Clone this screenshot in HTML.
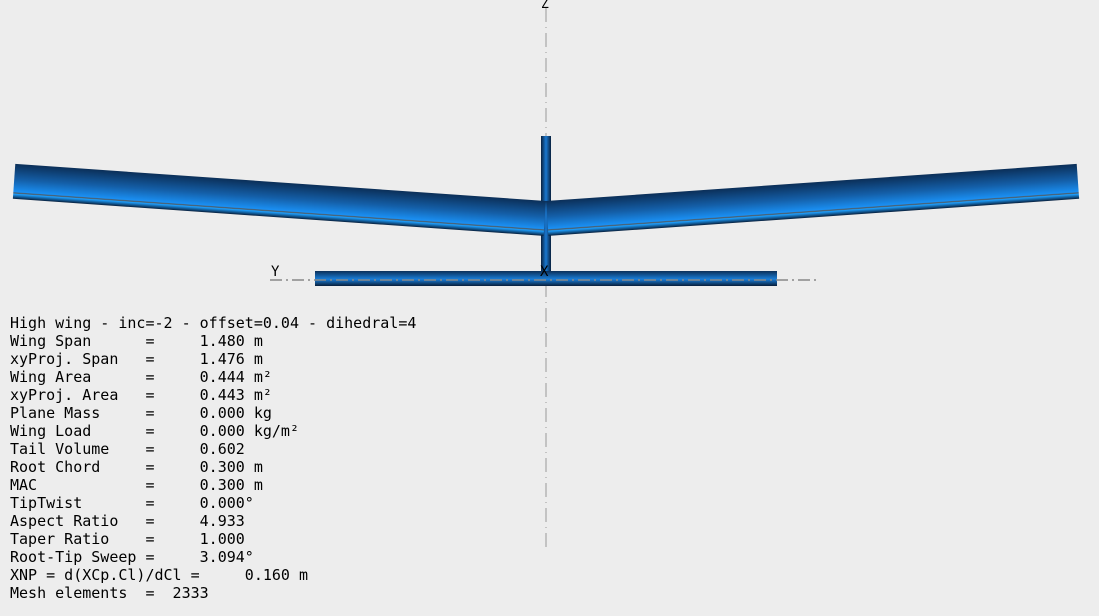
<!DOCTYPE html>
<html><head><meta charset="utf-8"><style>
html,body{margin:0;padding:0;background:#ededed;}
svg{display:block;}
text{font-family:"DejaVu Sans Mono","Liberation Mono",monospace;font-size:15px;fill:#000;}
</style></head><body>
<svg width="1099" height="616" viewBox="0 0 1099 616">
<defs>
<linearGradient id="wg" x1="0" y1="0" x2="0" y2="1">
<stop offset="0" stop-color="#0b2f58"/>
<stop offset="0.45" stop-color="#145fa8"/>
<stop offset="0.8" stop-color="#1a90f4"/>
<stop offset="0.83" stop-color="#555"/>
<stop offset="0.86" stop-color="#1ea0ff"/>
<stop offset="1" stop-color="#081e3a"/>
</linearGradient>
<linearGradient id="fg" x1="0" y1="0" x2="1" y2="0">
<stop offset="0" stop-color="#08203d"/>
<stop offset="0.5" stop-color="#1a78d0"/>
<stop offset="1" stop-color="#08203d"/>
</linearGradient>
<linearGradient id="eg" x1="0" y1="0" x2="0" y2="1">
<stop offset="0" stop-color="#0b2f58"/>
<stop offset="0.55" stop-color="#1a7ed8"/>
<stop offset="1" stop-color="#081e3a"/>
</linearGradient>
</defs>
<line x1="546" y1="8" x2="546" y2="552" stroke="#999" stroke-width="1" stroke-dasharray="14,5,1,5"/>
<text x="541" y="8" style="font-size:13px">Z</text>
<rect x="541" y="136" width="10" height="136" fill="url(#fg)"/>
<g transform="translate(546,201) rotate(4)">
<rect x="-532" y="0" width="532" height="35" fill="url(#wg)"/>
</g>
<g transform="translate(546,201) rotate(-4)">
<rect x="0" y="0" width="532" height="35" fill="url(#wg)"/>
</g>
<rect x="315" y="271" width="462" height="15" fill="url(#eg)"/>
<line x1="270" y1="280" x2="818" y2="280" stroke="#888" stroke-width="1.5" stroke-dasharray="12,4,2,4"/>
<text x="271" y="276" style="font-size:14px">Y</text>
<text x="540" y="276" style="font-size:14px">X</text>
<g xml:space="preserve">
<text x="10" y="328" xml:space="preserve">High wing - inc=-2 - offset=0.04 - dihedral=4</text>
<text x="10" y="346" xml:space="preserve">Wing Span      =     1.480 m</text>
<text x="10" y="364" xml:space="preserve">xyProj. Span   =     1.476 m</text>
<text x="10" y="382" xml:space="preserve">Wing Area      =     0.444 m²</text>
<text x="10" y="400" xml:space="preserve">xyProj. Area   =     0.443 m²</text>
<text x="10" y="418" xml:space="preserve">Plane Mass     =     0.000 kg</text>
<text x="10" y="436" xml:space="preserve">Wing Load      =     0.000 kg/m²</text>
<text x="10" y="454" xml:space="preserve">Tail Volume    =     0.602</text>
<text x="10" y="472" xml:space="preserve">Root Chord     =     0.300 m</text>
<text x="10" y="490" xml:space="preserve">MAC            =     0.300 m</text>
<text x="10" y="508" xml:space="preserve">TipTwist       =     0.000°</text>
<text x="10" y="526" xml:space="preserve">Aspect Ratio   =     4.933</text>
<text x="10" y="544" xml:space="preserve">Taper Ratio    =     1.000</text>
<text x="10" y="562" xml:space="preserve">Root-Tip Sweep =     3.094°</text>
<text x="10" y="580" xml:space="preserve">XNP = d(XCp.Cl)/dCl =     0.160 m</text>
<text x="10" y="598" xml:space="preserve">Mesh elements  =  2333</text>
</g>
</svg>
</body></html>
